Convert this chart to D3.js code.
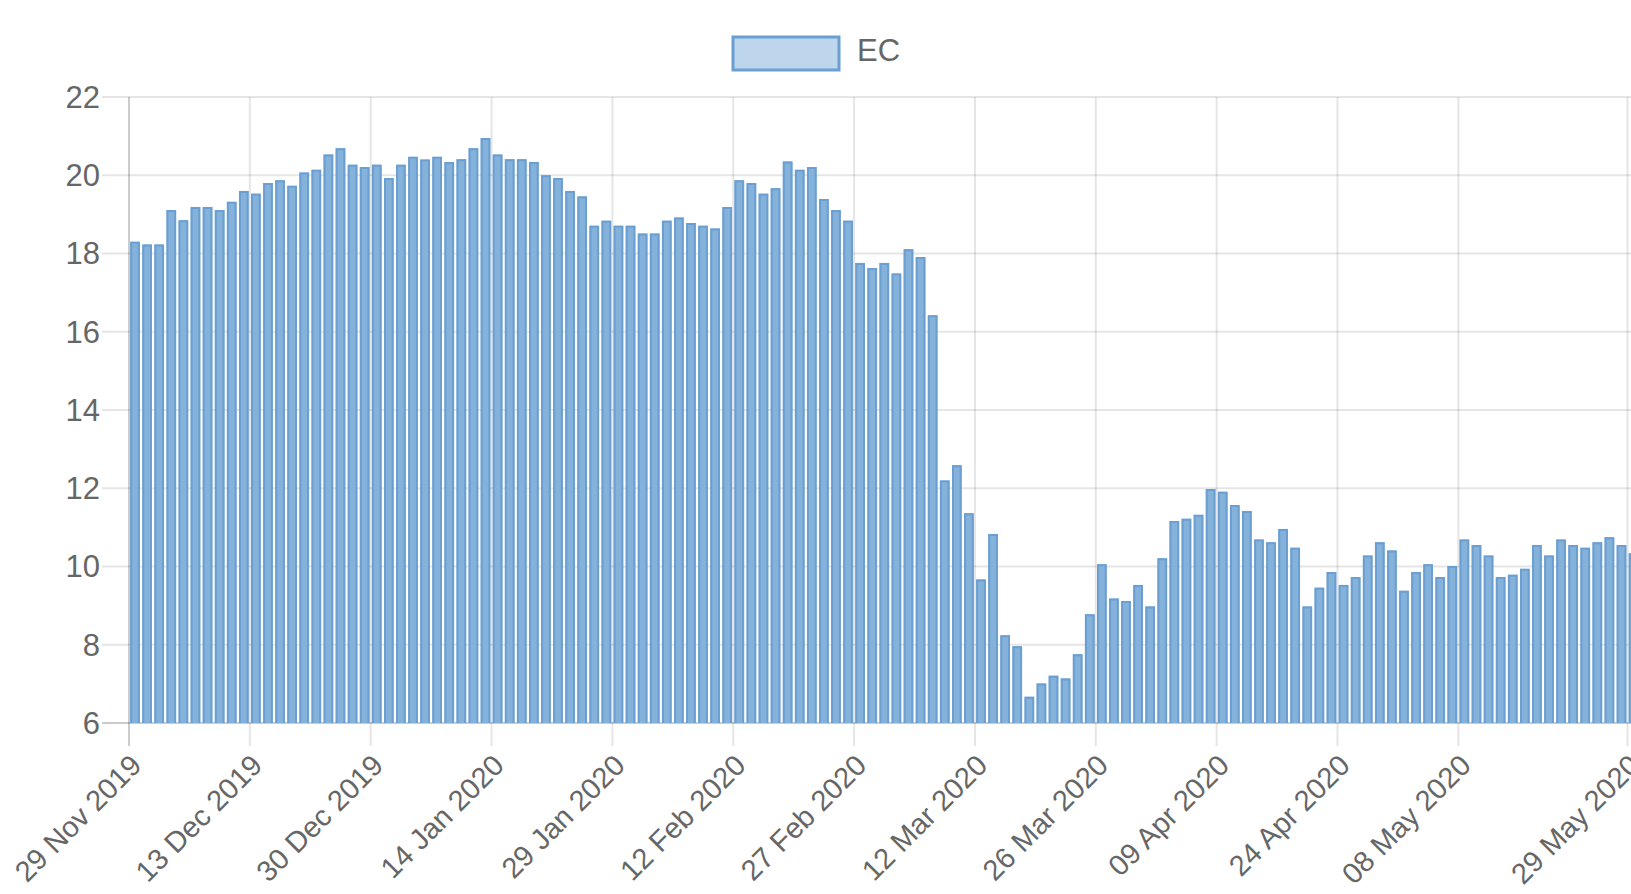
<!DOCTYPE html>
<html lang="en">
<head>
    <meta charset="UTF-8">
    <title>EC daily close</title>
    <script src="https://d3js.org/d3.v7.min.js"></script>
    <style>
        body{
            margin: 0;
            overflow: hidden;
            background: #ffffff;
        }
        text{
            font-family: "Liberation Sans", Arial, Helvetica, sans-serif;
            fill: #666666;
        }
    </style>
</head>
<body>
    <svg id='chart' width="1631" height="894"></svg>

    <script>
        // trading days shown as bars
        let dates = [
            "29 Nov 2019",
            "02 Dec 2019","03 Dec 2019","04 Dec 2019","05 Dec 2019","06 Dec 2019",
            "09 Dec 2019","10 Dec 2019","11 Dec 2019","12 Dec 2019","13 Dec 2019",
            "16 Dec 2019","17 Dec 2019","18 Dec 2019","19 Dec 2019","20 Dec 2019",
            "23 Dec 2019","24 Dec 2019","26 Dec 2019","27 Dec 2019","30 Dec 2019","31 Dec 2019",
            "02 Jan 2020","03 Jan 2020","06 Jan 2020","07 Jan 2020","08 Jan 2020","09 Jan 2020","10 Jan 2020",
            "13 Jan 2020","14 Jan 2020","15 Jan 2020","16 Jan 2020","17 Jan 2020",
            "21 Jan 2020","22 Jan 2020","23 Jan 2020","24 Jan 2020",
            "27 Jan 2020","28 Jan 2020","29 Jan 2020","30 Jan 2020","31 Jan 2020",
            "03 Feb 2020","04 Feb 2020","05 Feb 2020","06 Feb 2020","07 Feb 2020",
            "10 Feb 2020","11 Feb 2020","12 Feb 2020","13 Feb 2020","14 Feb 2020",
            "18 Feb 2020","19 Feb 2020","20 Feb 2020","21 Feb 2020",
            "24 Feb 2020","25 Feb 2020","26 Feb 2020","27 Feb 2020","28 Feb 2020",
            "02 Mar 2020","03 Mar 2020","04 Mar 2020","05 Mar 2020","06 Mar 2020",
            "09 Mar 2020","10 Mar 2020","11 Mar 2020","12 Mar 2020","13 Mar 2020",
            "16 Mar 2020","17 Mar 2020","18 Mar 2020","19 Mar 2020","20 Mar 2020",
            "23 Mar 2020","24 Mar 2020","25 Mar 2020","26 Mar 2020","27 Mar 2020",
            "30 Mar 2020","31 Mar 2020","01 Apr 2020","02 Apr 2020","03 Apr 2020",
            "06 Apr 2020","07 Apr 2020","08 Apr 2020","09 Apr 2020",
            "13 Apr 2020","14 Apr 2020","15 Apr 2020","16 Apr 2020","17 Apr 2020",
            "20 Apr 2020","21 Apr 2020","22 Apr 2020","23 Apr 2020","24 Apr 2020",
            "27 Apr 2020","28 Apr 2020","29 Apr 2020","30 Apr 2020","01 May 2020",
            "04 May 2020","05 May 2020","06 May 2020","07 May 2020","08 May 2020",
            "11 May 2020","12 May 2020","13 May 2020","14 May 2020","15 May 2020",
            "18 May 2020","19 May 2020","20 May 2020","21 May 2020","22 May 2020",
            "26 May 2020","27 May 2020","28 May 2020","29 May 2020"
        ];

        // EC values
        let ec = [
            18.30, 18.23, 18.23, 19.11, 18.85, 19.19, 19.19, 19.11, 19.32, 19.60,
            19.53, 19.80, 19.87, 19.73, 20.07, 20.14, 20.53, 20.69, 20.27, 20.21,
            20.27, 19.93, 20.27, 20.47, 20.40, 20.47, 20.34, 20.41, 20.69, 20.95,
            20.53, 20.41, 20.41, 20.34, 20.00, 19.93, 19.60, 19.46, 18.71, 18.84,
            18.71, 18.71, 18.51, 18.51, 18.84, 18.92, 18.78, 18.71, 18.64, 19.19,
            19.87, 19.80, 19.53, 19.67, 20.35, 20.14, 20.21, 19.39, 19.11, 18.84,
            17.76, 17.63, 17.76, 17.49, 18.11, 17.91, 16.42, 12.20, 12.59, 11.36,
            9.67, 10.83, 8.24, 7.96, 6.67, 7.01, 7.21, 7.14, 7.76, 8.78,
            10.06, 9.18, 9.12, 9.53, 8.98, 10.21, 11.16, 11.22, 11.32, 11.98,
            11.91, 11.57, 11.42, 10.69, 10.62, 10.96, 10.48, 8.98, 9.46, 9.86,
            9.53, 9.73, 10.28, 10.62, 10.41, 9.38, 9.86, 10.06, 9.73, 10.01,
            10.69, 10.55, 10.28, 9.73, 9.79, 9.94, 10.55, 10.28, 10.69, 10.55,
            10.48, 10.62, 10.75, 10.55, 10.34
        ];

        // labels that the x axis keeps
        let xTickLabels = ["29 Nov 2019","13 Dec 2019","30 Dec 2019","14 Jan 2020","29 Jan 2020",
            "12 Feb 2020","27 Feb 2020","12 Mar 2020","26 Mar 2020","09 Apr 2020",
            "24 Apr 2020","08 May 2020","29 May 2020"];
        let yTicks = [6, 8, 10, 12, 14, 16, 18, 20, 22];
        let seriesName = "EC";

        let svg = d3.select("#chart");

        // plot area (runs past the right edge of the window, like the original)
        let plotLeft = 129, plotTop = 97, plotBottom = 723;
        let step = 12.085;

        let x = d3.scaleBand()
            .domain(dates)
            .range([plotLeft, plotLeft + dates.length * step])
            .paddingInner(0.2)
            .paddingOuter(0.1);

        let y = d3.scaleLinear()
            .domain([6, 22])
            .range([plotBottom, plotTop]);

        // band start, where the grid lines sit
        function slot(d){
            return x(d) - x.step() * x.paddingOuter();
        }

        // horizontal grid + tick marks
        svg.append("g")
            .selectAll("line")
            .data(yTicks)
            .join("line")
            .attr("x1", plotLeft - 27)
            .attr("x2", 1631)
            .attr("y1", d => y(d))
            .attr("y2", d => y(d))
            .attr("stroke", d => d === 6 ? "rgba(0,0,0,0.2)" : "rgba(0,0,0,0.1)")
            .attr("stroke-width", 2);

        // vertical grid + tick marks
        svg.append("g")
            .selectAll("line")
            .data(xTickLabels)
            .join("line")
            .attr("x1", d => slot(d))
            .attr("x2", d => slot(d))
            .attr("y1", plotTop)
            .attr("y2", plotBottom + 23)
            .attr("stroke", (d, i) => i === 0 ? "rgba(0,0,0,0.2)" : "rgba(0,0,0,0.1)")
            .attr("stroke-width", 2);

        // bars
        let bars = svg.append("g")
            .selectAll("g")
            .data(ec)
            .join("g");

        bars.append("rect")
            .attr("x", (d, i) => x(dates[i]))
            .attr("y", d => y(d))
            .attr("width", x.bandwidth())
            .attr("height", d => plotBottom - y(d))
            .attr("fill", "#85b2db");

        // border on left, top and right only
        bars.append("path")
            .attr("d", (d, i) => {
                let x0 = x(dates[i]) + 1, x1 = x(dates[i]) + x.bandwidth() - 1;
                return "M" + x0 + "," + plotBottom + "V" + (y(d) + 1) + "H" + x1 + "V" + plotBottom;
            })
            .attr("fill", "none")
            .attr("stroke", "#6b9fd1")
            .attr("stroke-width", 2);

        // y tick labels
        svg.append("g")
            .selectAll("text")
            .data(yTicks)
            .join("text")
            .attr("x", plotLeft - 29)
            .attr("y", d => y(d))
            .attr("dy", "0.35em")
            .attr("text-anchor", "end")
            .style("font-size", "31px")
            .text(d => d);

        // x tick labels, turned 45 degrees
        svg.append("g")
            .selectAll("text")
            .data(xTickLabels)
            .join("text")
            .attr("transform", d => "translate(" + (slot(d) + 7) + "," + (plotBottom + 37) + ") rotate(-45)")
            .attr("dy", "0.35em")
            .attr("text-anchor", "end")
            .style("font-size", "29px")
            .text(d => d);

        // legend
        let legend = svg.append("g");
        legend.append("rect")
            .attr("x", 733)
            .attr("y", 37)
            .attr("width", 106)
            .attr("height", 33)
            .attr("fill", "#bdd6ec")
            .attr("stroke", "#6b9fd1")
            .attr("stroke-width", 3);
        legend.append("text")
            .attr("x", 857)
            .attr("y", 50)
            .attr("dy", "0.35em")
            .style("font-size", "31px")
            .text(seriesName);
    </script>
</body>
</html>
